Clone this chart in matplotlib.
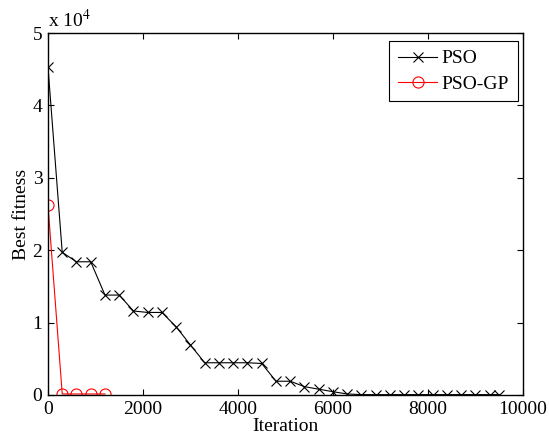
import numpy as np
import matplotlib
matplotlib.use("Agg")
import matplotlib.pyplot as plt
from matplotlib.ticker import FuncFormatter

# PSO best fitness, sampled every 300 iterations (last point at 9500)
pso_iter = [0, 300, 600, 900, 1200, 1500, 1800, 2100, 2400, 2700, 3000,
            3300, 3600, 3900, 4200, 4500, 4800, 5100, 5400, 5700, 6000,
            6300, 6600, 6900, 7200, 7500, 7800, 8100, 8400, 8700, 9000,
            9300, 9500]
pso_fit = [45300, 19700, 18400, 18400, 13800, 13800, 11600, 11400, 11400,
           9400, 6900, 4450, 4450, 4450, 4450, 4350, 1900, 1900, 1150,
           800, 450, 140, 50, 50, 50, 50, 50, 50, 50, 50, 50, 50, 50]

# PSO-GP best fitness
gp_iter = [0, 300, 600, 900, 1200]
gp_fit = [26200, 140, 140, 140, 140]

plt.rcParams['font.family'] = ['Liberation Serif', 'DejaVu Serif']
plt.rcParams['mathtext.fontset'] = 'stix'

fig = plt.figure(figsize=(5.49, 4.43), dpi=100)
ax = fig.add_axes([0.0874, 0.1084, 0.8652, 0.8171])

ax.plot(pso_iter, pso_fit, color='black', lw=0.8, marker='x',
        markersize=7, markeredgewidth=0.8, label='PSO')
ax.plot(gp_iter, gp_fit, color='red', lw=0.8, marker='o',
        markersize=8, markerfacecolor='none', markeredgewidth=0.8,
        label='PSO-GP')

ax.set_xlim(0, 10000)
ax.set_ylim(0, 50000)
ax.set_xticks(np.arange(0, 10001, 2000))
ax.set_yticks(np.arange(0, 50001, 10000))
ax.yaxis.set_major_formatter(FuncFormatter(lambda v, p: f"{v / 1e4:g}"))
ax.tick_params(direction='in', top=True, right=True, length=4,
               width=0.8, labelsize=14, pad=4)
for s in ax.spines.values():
    s.set_linewidth(1.0)

ax.set_xlabel('Iteration', fontsize=14, labelpad=0)
ax.set_ylabel('Best fitness', fontsize=14, labelpad=2)
ax.text(0.0, 1.005, r'x 10$^4$', transform=ax.transAxes, fontsize=14,
        ha='left', va='bottom')

leg = ax.legend(loc='upper right', bbox_to_anchor=(0.9895, 0.978),
                fontsize=14, fancybox=False, edgecolor='black',
                framealpha=1, handlelength=2.0, borderpad=0.45,
                labelspacing=0.4, handletextpad=0.25, borderaxespad=0)
leg.get_frame().set_linewidth(0.8)

fig.savefig('out.png', dpi=100)
